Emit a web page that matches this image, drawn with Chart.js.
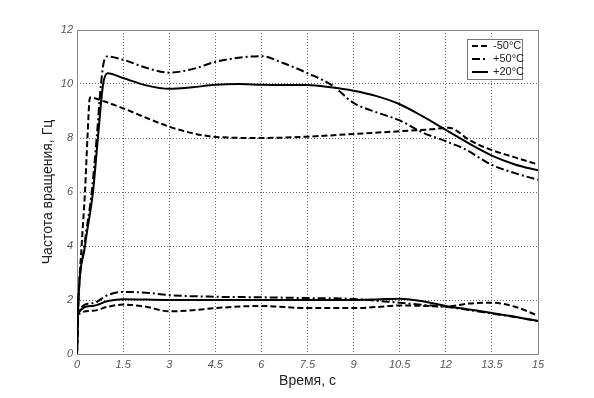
<!DOCTYPE html>
<html>
<head>
<meta charset="utf-8">
<script src="https://cdn.jsdelivr.net/npm/chart.js@4.4.0/dist/chart.umd.min.js"></script>
<style>
    html, body { margin: 0; padding: 0; background: #fff; }
    #wrap { width: 594px; height: 398px; }
</style>
</head>
<body>
<div id="wrap"><canvas id="freq-chart" width="594" height="398"></canvas></div>
<script>
// -50°C (dashed)
const tM50Up = [0, 0.03, 0.15, 0.26, 0.34, 0.42, 0.9, 1.5, 2.25, 3, 3.75, 4.5, 6, 7.5, 9, 10.5, 11.5, 12.1, 12.8, 13.5, 14.2, 15];
const vM50Up = [0, 1.5, 4, 6, 8, 9.5, 9.35, 9.1, 8.75, 8.42, 8.18, 8.04, 8.0, 8.05, 8.15, 8.25, 8.32, 8.38, 7.9, 7.55, 7.3, 7.02];
const tM50Lo = [0, 0.03, 0.5, 1.0, 1.5, 2.25, 3, 3.75, 4.5, 6, 7.5, 9, 9.75, 10.5, 11.25, 12, 12.75, 13.5, 14.25, 15];
const vM50Lo = [0, 1.45, 1.6, 1.75, 1.83, 1.75, 1.58, 1.62, 1.7, 1.78, 1.7, 1.7, 1.74, 1.8, 1.78, 1.76, 1.87, 1.9, 1.75, 1.42];

// +50°C (dash-dot)
const tP50Up = [0, 0.03, 0.24, 0.48, 0.64, 0.78, 0.87, 0.98, 1.5, 2.25, 3, 3.75, 4.5, 5.25, 6, 6.7, 7.5, 8.3, 9, 9.75, 10.5, 11.25, 12, 12.6, 13.5, 14.25, 15];
const vP50Up = [0, 1.5, 4, 6, 8, 10, 10.8, 11.02, 10.9, 10.6, 10.42, 10.55, 10.82, 10.97, 11.03, 10.78, 10.4, 9.95, 9.3, 8.95, 8.65, 8.2, 7.88, 7.6, 7.0, 6.7, 6.45];
const tP50Lo = [0, 0.03, 0.5, 1.0, 1.5, 2.25, 3, 4.5, 6, 7.5, 9, 9.75, 10.5, 11.25, 12, 12.75, 13.5, 14.25, 15];
const vP50Lo = [0, 1.55, 1.88, 2.18, 2.3, 2.27, 2.18, 2.12, 2.1, 2.07, 2.04, 1.97, 1.9, 1.82, 1.75, 1.63, 1.5, 1.37, 1.22];

// +20°C (solid)
const tP20Up = [0, 0.03, 0.26, 0.52, 0.68, 0.85, 1.0, 1.5, 2.25, 3, 3.75, 4.5, 5.25, 6, 6.75, 7.5, 8.25, 9, 9.75, 10.5, 11.25, 12, 12.75, 13.5, 14.25, 15];
const vP20Up = [0, 1.5, 4, 6, 8, 10, 10.4, 10.22, 9.95, 9.82, 9.88, 9.97, 10.0, 9.97, 9.96, 9.96, 9.88, 9.75, 9.55, 9.25, 8.8, 8.3, 7.8, 7.35, 7.02, 6.8];
const tP20Lo = [0, 0.03, 0.5, 1.0, 1.5, 3, 4.5, 6, 7.5, 9, 9.75, 10.5, 11.25, 12, 12.75, 13.5, 14.25, 15];
const vP20Lo = [0, 1.5, 1.78, 1.96, 2.03, 2.0, 2.0, 2.0, 2.0, 2.0, 2.02, 2.05, 1.95, 1.78, 1.65, 1.52, 1.38, 1.22];

const xTicks = [0, 1.5, 3, 4.5, 6, 7.5, 9, 10.5, 12, 13.5, 15];
const yTicks = [0, 2, 4, 6, 8, 10, 12];
const legendLabels = ['-50°C', '+50°C', '+20°C'];

const DASH = [6, 3];
const DASH_DOT = [8, 3, 2, 3];
const SOLID = [];
const legendDashes = [DASH, DASH_DOT, SOLID];

const FONT = "'Liberation Sans', Arial, sans-serif";

function pts(t, v) {
    return t.map((x, i) => ({ x: x, y: v[i] }));
}

function curve(t, v, dash) {
    return {
        data: pts(t, v),
        borderColor: '#000',
        borderWidth: 2,
        borderDash: dash,
        pointRadius: 0,
        fill: false,
        cubicInterpolationMode: 'monotone'
    };
}

// plot frame + legend box
const framePlugin = {
    id: 'frame',
    beforeDatasetsDraw(chart) {
        const a = chart.chartArea;
        const ctx = chart.ctx;
        ctx.save();
        ctx.strokeStyle = '#888';
        ctx.lineWidth = 1;
        ctx.strokeRect(a.left + 0.5, a.top + 0.5, a.right - a.left, a.bottom - a.top);
        ctx.restore();
    },
    afterDatasetsDraw(chart) {
        const ctx = chart.ctx;
        const bx = 467, by = 39, bw = 55, bh = 40;
        ctx.save();
        ctx.fillStyle = '#fff';
        ctx.fillRect(bx, by, bw, bh);
        ctx.strokeStyle = '#777';
        ctx.lineWidth = 1;
        ctx.strokeRect(bx + 0.5, by + 0.5, bw, bh);
        ctx.font = '11px ' + FONT;
        ctx.textBaseline = 'middle';
        ctx.fillStyle = '#222';
        legendLabels.forEach((lbl, i) => {
            const y = by + 7 + i * 13;
            ctx.beginPath();
            ctx.setLineDash(legendDashes[i]);
            ctx.strokeStyle = '#000';
            ctx.lineWidth = 2;
            ctx.moveTo(472, y);
            ctx.lineTo(488, y);
            ctx.stroke();
            ctx.setLineDash([]);
            ctx.fillText(lbl, 493, y);
        });
        ctx.restore();
    }
};

new Chart(document.getElementById('freq-chart'), {
    type: 'line',
    data: {
        datasets: [
            curve(tM50Up, vM50Up, DASH),
            curve(tM50Lo, vM50Lo, DASH),
            curve(tP50Up, vP50Up, DASH_DOT),
            curve(tP50Lo, vP50Lo, DASH_DOT),
            curve(tP20Up, vP20Up, SOLID),
            curve(tP20Lo, vP20Lo, SOLID)
        ]
    },
    options: {
        responsive: false,
        animation: false,
        devicePixelRatio: 1,
        layout: { padding: { left: 0, right: 56, top: 30, bottom: 0 } },
        plugins: {
            legend: { display: false },
            tooltip: { enabled: false }
        },
        scales: {
            x: {
                type: 'linear',
                min: 0,
                max: 15,
                afterFit: s => { s.height = 44; },
                afterBuildTicks: s => { s.ticks = xTicks.map(v => ({ value: v })); },
                grid: { color: '#666', lineWidth: 1, drawTicks: false },
                border: { display: false, dash: [1, 2] },
                ticks: {
                    padding: 4,
                    color: '#555',
                    maxRotation: 0,
                    font: { family: FONT, size: 11, style: 'italic' },
                    callback: v => String(v)
                },
                title: {
                    display: true,
                    text: 'Время, с',
                    color: '#222',
                    font: { family: FONT, size: 14 },
                    padding: { top: 0, bottom: 8 }
                }
            },
            y: {
                min: 0,
                max: 12,
                afterFit: s => { s.width = 77; },
                afterBuildTicks: s => { s.ticks = yTicks.map(v => ({ value: v })); },
                grid: { color: '#666', lineWidth: 1, drawTicks: false },
                border: { display: false, dash: [1, 2] },
                ticks: {
                    padding: 4,
                    color: '#555',
                    font: { family: FONT, size: 11, style: 'italic' },
                    callback: v => String(v)
                },
                title: {
                    display: true,
                    text: 'Частота вращения, Гц',
                    color: '#222',
                    font: { family: FONT, size: 14 },
                    padding: { top: 40, bottom: 0 }
                }
            }
        }
    },
    plugins: [framePlugin]
});
</script>
</body>
</html>
